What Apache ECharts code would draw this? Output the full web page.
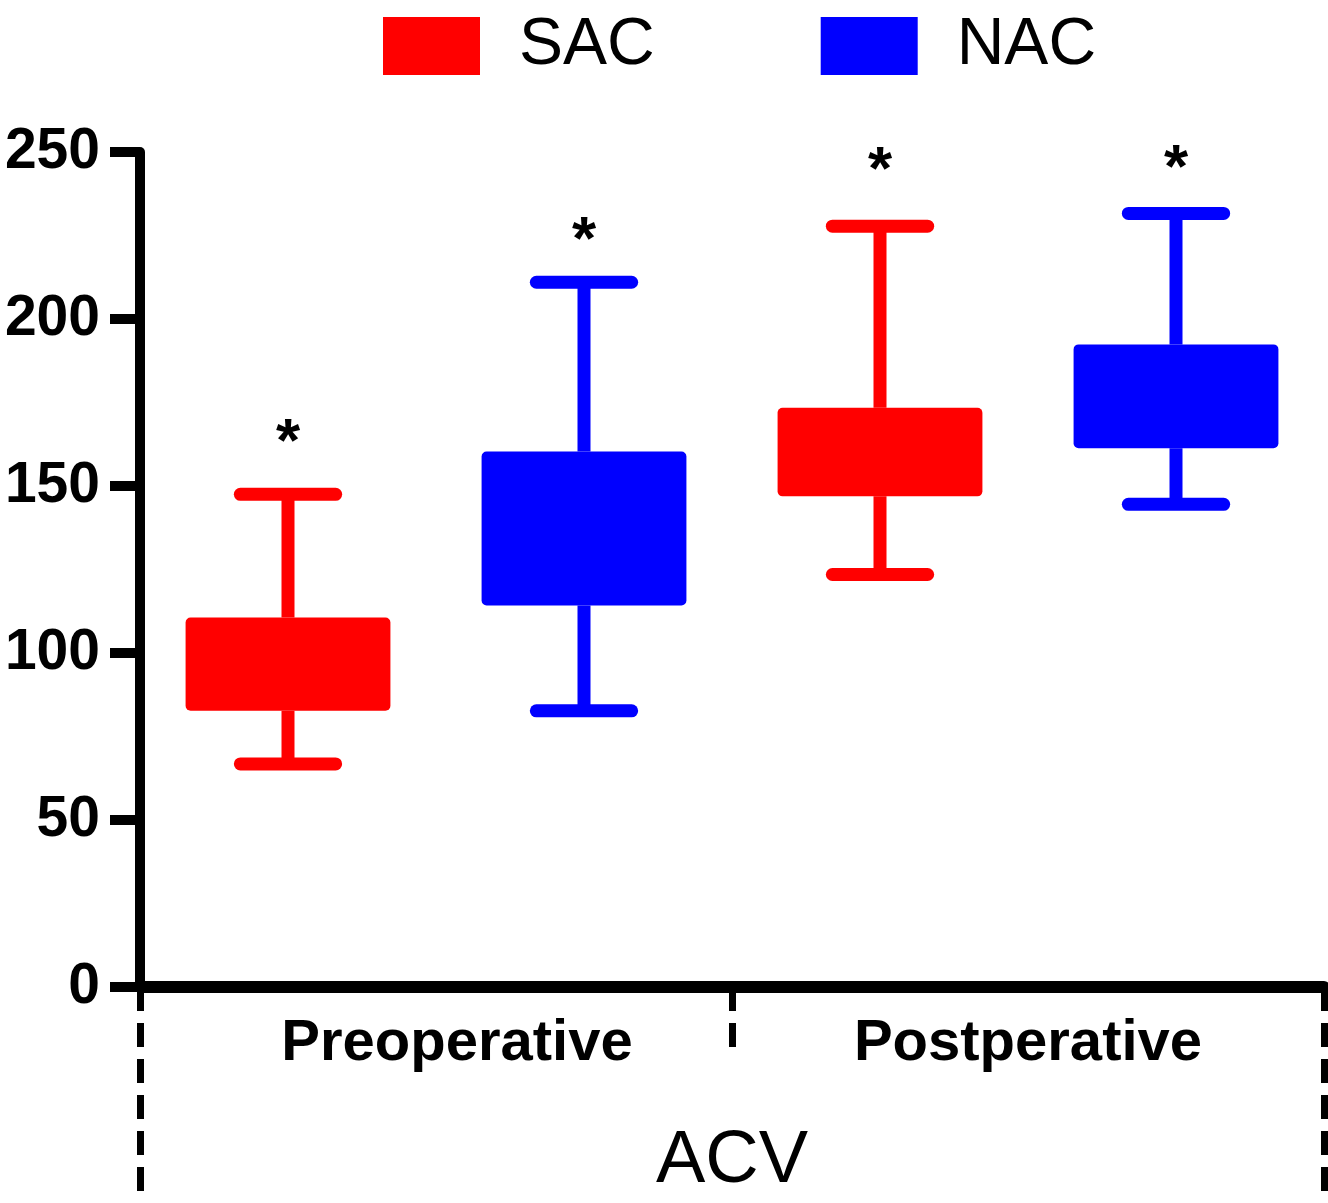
<!DOCTYPE html>
<html>
<head>
<meta charset="utf-8">
<script src="https://cdn.jsdelivr.net/npm/echarts@6/dist/echarts.min.js"></script>
<style>
html,body{margin:0;padding:0;background:#fff;}
#chart{width:1328px;height:1203px;}
</style>
</head>
<body>
<div id="chart"></div>
<script>
// ---- data ----
const groups = ['Preoperative', 'Postperative'];
const outerLabel = ['ACV'];
const seriesNames = ['SAC', 'NAC'];
// [groupIndex, min, q1, q3, max]
const sacBoxes = [
  [0, 66.8, 82.7, 110.6, 147.5],
  [1, 123.5, 146.9, 173.4, 227.8]
];
const nacBoxes = [
  [0, 82.7, 114.2, 160.3, 211.0],
  [1, 144.5, 161.3, 192.4, 231.6]
];
// asterisk positions (value units) per group
const sacStars = [166.4, 248.0];
const nacStars = [227.0, 248.5];
const yTicks = [0, 50, 100, 150, 200, 250];

const FONT = '"Liberation Sans", Arial, Helvetica, sans-serif';
const RED = '#ff0000';
const BLUE = '#0000ff';

function makeRender(offset, color, stars) {
  return function (params, api) {
    const c = api.value(0);
    const band = api.size([1, 0])[0];
    const cx = api.coord([c, 0])[0] + offset * band;
    const yMin = api.coord([c, api.value(1)])[1];
    const yQ1 = api.coord([c, api.value(2)])[1];
    const yQ3 = api.coord([c, api.value(3)])[1];
    const yMax = api.coord([c, api.value(4)])[1];
    const yStar = api.coord([c, stars[params.dataIndex]])[1];
    const boxW = band * 0.346;
    const capHalf = band * 0.0805;
    const lw = 13;
    const ls = { stroke: color, lineWidth: lw, lineCap: 'round' };
    const lsb = { stroke: color, lineWidth: lw, lineCap: 'butt' };
    return {
      type: 'group',
      children: [
        { type: 'line', shape: { x1: cx, y1: yMin, x2: cx, y2: yQ1 }, style: lsb },
        { type: 'line', shape: { x1: cx, y1: yQ3, x2: cx, y2: yMax }, style: lsb },
        { type: 'line', shape: { x1: cx - capHalf, y1: yMin, x2: cx + capHalf, y2: yMin }, style: ls },
        { type: 'line', shape: { x1: cx - capHalf, y1: yMax, x2: cx + capHalf, y2: yMax }, style: ls },
        { type: 'rect', shape: { x: cx - boxW / 2, y: yQ3, width: boxW, height: yQ1 - yQ3, r: 5 }, style: { fill: color } },
        { type: 'text', style: { text: '*', x: cx, y: yStar + 13, fontSize: 62, fontWeight: 'bold', fontFamily: FONT, fill: '#000', align: 'center', verticalAlign: 'middle' } }
      ]
    };
  };
}

const chart = echarts.init(document.getElementById('chart'), null, { renderer: 'canvas' });
chart.setOption({
  backgroundColor: '#fff',
  animation: false,
  legend: {
    data: seriesNames.map(n => ({ name: n, icon: 'rect' })),
    left: 378,
    top: 8,
    itemWidth: 97,
    itemHeight: 58,
    itemGap: 166,
    textStyle: { fontSize: 66, fontFamily: FONT, color: '#000', padding: [0, 0, 0, 34] },
    selectedMode: false
  },
  grid: { left: 140, right: 4, top: 152, bottom: 216, containLabel: false },
  xAxis: [
    {
      type: 'category',
      data: groups,
      position: 'bottom',
      boundaryGap: true,
      axisLine: { show: true, lineStyle: { color: '#000', width: 12 } },
      axisTick: { show: true, interval: 0, length: 72, lineStyle: { color: '#000', width: 7, type: [24, 12] } },
      axisLabel: {
        interval: 0,
        hideOverlap: false,
        fontSize: 58, fontWeight: 'bold', fontFamily: FONT, color: '#000', margin: 28,
        formatter: function (v, i) { return i === 0 ? '{pre|' + v + '}' : '{post|' + v + '}'; },
        rich: {
          pre: { fontSize: 58, fontWeight: 'bold', fontFamily: FONT, color: '#000', padding: [0, 0, 0, 42] },
          post: { fontSize: 58, fontWeight: 'bold', fontFamily: FONT, color: '#000' }
        }
      },
      splitLine: { show: false }
    },
    {
      type: 'category',
      data: outerLabel,
      position: 'bottom',
      offset: 0,
      boundaryGap: true,
      axisLine: { show: false },
      axisTick: { show: true, interval: 0, length: 205, lineStyle: { color: '#000', width: 7, type: [24, 12] } },
      axisLabel: { interval: 0, fontSize: 74, fontFamily: FONT, color: '#000', margin: 138 },
      splitLine: { show: false }
    }
  ],
  yAxis: {
    type: 'value',
    min: yTicks[0],
    max: yTicks[yTicks.length - 1],
    interval: 50,
    axisLine: { show: true, lineStyle: { color: '#000', width: 10 } },
    axisTick: { show: true, length: 30, lineStyle: { color: '#000', width: 10 } },
    axisLabel: { fontSize: 57, fontWeight: 'bold', fontFamily: FONT, color: '#000', margin: 40 },
    splitLine: { show: false }
  },
  series: [
    {
      name: 'SAC',
      type: 'custom',
      xAxisIndex: 0,
      itemStyle: { color: RED },
      encode: { x: 0, y: [1, 2, 3, 4] },
      renderItem: makeRender(-0.25, RED, sacStars),
      data: sacBoxes,
      clip: false
    },
    {
      name: 'NAC',
      type: 'custom',
      xAxisIndex: 0,
      itemStyle: { color: BLUE },
      encode: { x: 0, y: [1, 2, 3, 4] },
      renderItem: makeRender(0.25, BLUE, nacStars),
      data: nacBoxes,
      clip: false
    }
  ]
});
</script>
</body>
</html>
